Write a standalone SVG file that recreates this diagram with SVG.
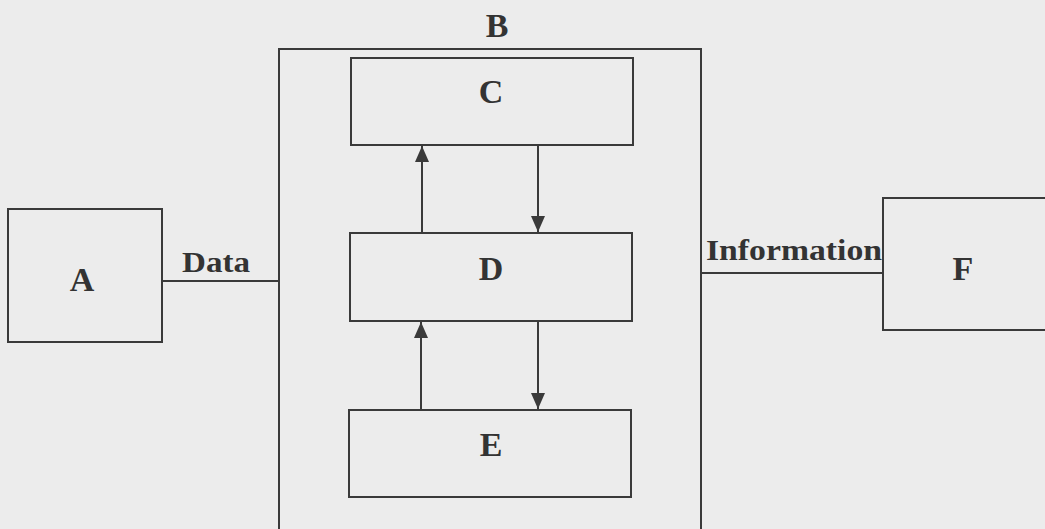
<svg xmlns="http://www.w3.org/2000/svg" width="1045" height="529" viewBox="0 0 1045 529">
<style>
.box{fill:none;stroke:#3a3a3a;stroke-width:2}
.ln{fill:none;stroke:#3a3a3a;stroke-width:2}
.lbl{font-family:"Liberation Serif",serif;font-weight:bold;fill:#333;text-anchor:middle}
.big{font-size:34px}
.mid{font-size:30px}
</style>
<defs>
<marker id="ah" viewBox="0 0 10 10" refX="10" refY="5" markerWidth="8" markerHeight="8" markerUnits="userSpaceOnUse" orient="auto">
<path d="M0,0 L10,5 L0,10 Z" fill="#3a3a3a"/>
</marker>
<marker id="ah2" viewBox="0 0 16 14" refX="16" refY="7" markerWidth="16" markerHeight="14" markerUnits="userSpaceOnUse" orient="auto">
<path d="M0,0 L16,7 L0,14 Z" fill="#3a3a3a"/>
</marker>
</defs>
<rect width="1045" height="529" fill="#ececec"/>
<g id="connectors">
<line class="ln" x1="162" y1="281" x2="279" y2="281"/>
<line class="ln" x1="701" y1="273" x2="883" y2="273"/>
<line class="ln" x1="422" y1="233" x2="422" y2="146" marker-end="url(#ah2)"/>
<line class="ln" x1="538" y1="146" x2="538" y2="232" marker-end="url(#ah2)"/>
<line class="ln" x1="421" y1="410" x2="421" y2="322" marker-end="url(#ah2)"/>
<line class="ln" x1="538" y1="322" x2="538" y2="409" marker-end="url(#ah2)"/>
<text class="lbl mid" x="216" y="272" textLength="68" lengthAdjust="spacingAndGlyphs">Data</text>
<text class="lbl mid" x="794" y="260" textLength="176" lengthAdjust="spacingAndGlyphs">Information</text>
</g>
<g id="A">
<rect class="box" x="8" y="209" width="154" height="133"/>
<text class="lbl big" x="82" y="291">A</text>
</g>
<g id="B">
<path class="box" d="M279,540 L279,49 L701,49 L701,540"/>
<text class="lbl big" x="497" y="37">B</text>
</g>
<g id="C">
<rect class="box" x="351" y="58" width="282" height="87"/>
<text class="lbl big" x="491" y="103">C</text>
</g>
<g id="D">
<rect class="box" x="350" y="233" width="282" height="88"/>
<text class="lbl big" x="491" y="280">D</text>
</g>
<g id="E">
<rect class="box" x="349" y="410" width="282" height="87"/>
<text class="lbl big" x="491" y="456">E</text>
</g>
<g id="F">
<rect class="box" x="883" y="198" width="170" height="132"/>
<text class="lbl big" x="963" y="280">F</text>
</g>
</svg>
